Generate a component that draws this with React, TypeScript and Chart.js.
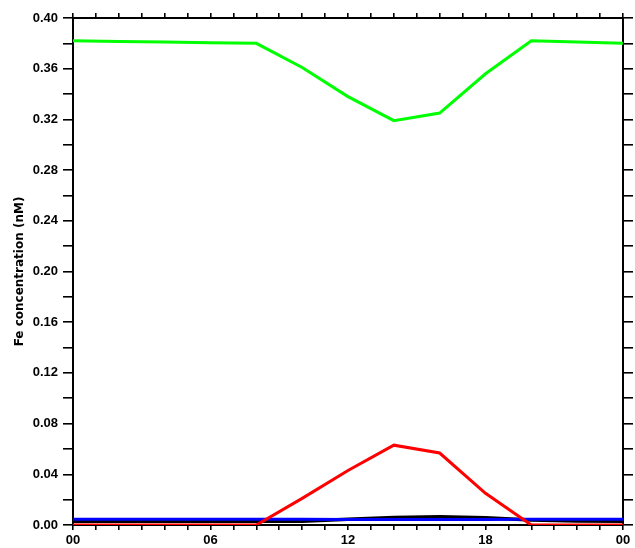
import React, { useEffect, useRef } from "react";
import { Chart, registerables } from "chart.js";

Chart.register(...registerables);

const hours = [0, 2, 4, 6, 8, 10, 12, 14, 16, 18, 20, 22, 24];
const greenSeries = [0.382, 0.3815, 0.381, 0.3805, 0.380, 0.361, 0.338, 0.319, 0.325, 0.356, 0.382, 0.381, 0.380];
const redSeries = [0, 0, 0, 0, 0, 0.021, 0.043, 0.063, 0.0568, 0.025, 0, 0, 0];
const blackSeries = [0.003, 0.003, 0.003, 0.003, 0.003, 0.003, 0.0045, 0.006, 0.0065, 0.0058, 0.004, 0.0032, 0.003];
const blueSeries = [0.0046, 0.0046, 0.0046, 0.0046, 0.0046, 0.0045, 0.0044, 0.0043, 0.0043, 0.0044, 0.0045, 0.0046, 0.0046];
const yTitle = "Fe concentration (nM)";

const pad2 = (v: number) => (v % 24 < 10 ? "0" : "") + String(v % 24);

export default function App() {
  const ref = useRef<HTMLCanvasElement | null>(null);
  useEffect(() => {
    if (!ref.current) return;
    const mk = (vals: number[]) => hours.map((h, i) => ({ x: h, y: vals[i] }));
    const tickFont = { family: "Liberation Sans, Arial, sans-serif", size: 13, weight: "bold" as const };
    const grid = (len: number) => ({
      drawOnChartArea: false,
      drawTicks: true,
      tickLength: len,
      color: "#000",
      tickColor: "#000",
      lineWidth: 1.6,
    });
    const border = { display: true, color: "#000", width: 2 };
    const chart = new Chart(ref.current, {
      type: "line",
      data: {
        datasets: [
          { data: mk(redSeries), borderColor: "#ff0000", borderWidth: 3, pointRadius: 0, order: 0 },
          { data: mk(blueSeries), borderColor: "#0000ff", borderWidth: 3, pointRadius: 0, order: 1 },
          { data: mk(blackSeries), borderColor: "#000000", borderWidth: 3.5, pointRadius: 0, order: 2 },
          { data: mk(greenSeries), borderColor: "#00ff00", borderWidth: 3, pointRadius: 0, order: 3 },
        ],
      },
      options: {
        animation: false,
        responsive: false,
        layout: { padding: 0 },
        plugins: { legend: { display: false }, tooltip: { enabled: false } },
        scales: {
          x: {
            type: "linear",
            position: "bottom",
            min: 0,
            max: 24,
            grid: grid(5),
            border,
            ticks: {
              stepSize: 1,
              autoSkip: false,
              maxRotation: 0,
              padding: 3,
              color: "#000",
              font: tickFont,
              callback: (v: any) => (Number(v) % 6 === 0 ? pad2(Number(v)) : ""),
            },
            afterFit: (s: any) => { s.height = 23; },
          },
          x2: {
            type: "linear",
            position: "top",
            min: 0,
            max: 24,
            grid: grid(5),
            border,
            ticks: { stepSize: 1, autoSkip: false, maxRotation: 0, callback: () => "" },
            afterFit: (s: any) => { s.height = 18; },
          },
          y: {
            type: "linear",
            position: "left",
            min: 0,
            max: 0.4,
            grid: grid(10),
            border,
            ticks: {
              stepSize: 0.02,
              autoSkip: false,
              padding: 5,
              color: "#000",
              font: tickFont,
              callback: (v: any) => (Math.round(Number(v) * 100) % 4 === 0 ? Number(v).toFixed(2) : ""),
            },
            title: {
              display: true,
              text: yTitle,
              color: "#000",
              font: { family: "DejaVu Sans, sans-serif", size: 12, weight: "bold" },
              padding: { top: 13, bottom: 0 },
            },
            afterFit: (s: any) => { s.width = 73; },
          },
          y2: {
            type: "linear",
            position: "right",
            min: 0,
            max: 0.4,
            grid: grid(10),
            border,
            ticks: { stepSize: 0.02, autoSkip: false, callback: () => "" },
            afterFit: (s: any) => { s.width = 12; },
          },
        },
      } as any,
    });
    return () => chart.destroy();
  }, []);
  return (
    <div style={{ position: "absolute", left: 0, top: 0, width: 635, height: 548, background: "#fff" }}>
      <canvas ref={ref} width={635} height={548} />
    </div>
  );
}
